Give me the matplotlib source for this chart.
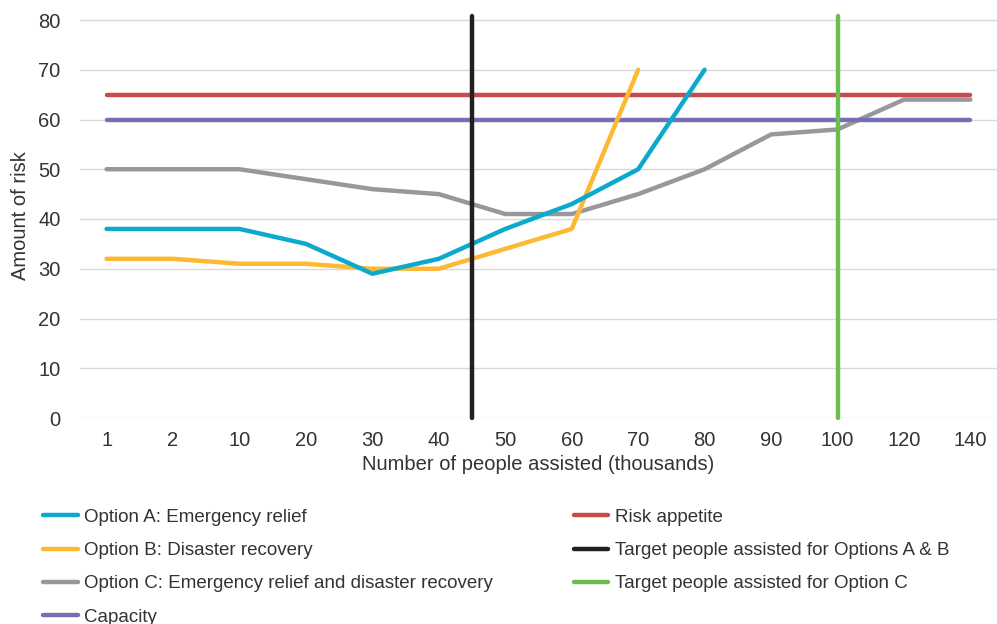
import numpy as np
import matplotlib
matplotlib.use("Agg")
import matplotlib.pyplot as plt

plt.rcParams['font.family'] = ['Liberation Sans', 'DejaVu Sans']

# People assisted (thousands) - categorical axis
people = [1, 2, 10, 20, 30, 40, 50, 60, 70, 80, 90, 100, 120, 140]

option_a = [38, 38, 38, 35, 29, 32, 38, 43, 50, 70]
option_b = [32, 32, 31, 31, 30, 30, 34, 38, 70]
option_c = [50, 50, 50, 48, 46, 45, 41, 41, 45, 50, 57, 58, 64, 64]
risk_appetite = [65] * len(people)
capacity = [60] * len(people)

target_ab = 45
target_c = 100
target_top = 80.8

c_a = '#0BA9CC'
c_b = '#FDB933'
c_c = '#97989B'
c_risk = '#C84A4B'
c_cap = '#7570B3'
c_ab = '#231F20'
c_tc = '#6CBD4F'
txt = '#333333'

ytop = 81.5
fig = plt.figure(figsize=(9.97, 6.24), dpi=100)
ax = fig.add_axes([80 / 997, 206 / 624, 917 / 997, ytop * 4.975 / 624])

idx = np.arange(len(people))
lw = 3.2

ax.plot(idx[:len(option_a)], option_a, color=c_a, lw=lw, solid_capstyle='round',
        label='Option A: Emergency relief', zorder=4)
ax.plot(idx[:len(option_b)], option_b, color=c_b, lw=lw, solid_capstyle='round',
        label='Option B: Disaster recovery', zorder=3)
ax.plot(idx, option_c, color=c_c, lw=lw, solid_capstyle='round',
        label='Option C: Emergency relief and disaster recovery', zorder=2)
ax.plot(idx, capacity, color=c_cap, lw=lw, solid_capstyle='round', label='Capacity', zorder=2)
ax.plot(idx, risk_appetite, color=c_risk, lw=lw, solid_capstyle='round', label='Risk appetite', zorder=2)

# vertical target markers, placed between categories on the same scale
x_ab = np.interp(target_ab, people, idx)
x_c = np.interp(target_c, people, idx)
ax.plot([x_ab, x_ab], [0, target_top], color=c_ab, lw=lw, solid_capstyle='round',
        label='Target people assisted for Options A & B', zorder=5, clip_on=False)
ax.plot([x_c, x_c], [0, target_top], color=c_tc, lw=lw, solid_capstyle='round',
        label='Target people assisted for Option C', zorder=5, clip_on=False)

ax.set_xlim(-0.4, 13.4)
ax.set_ylim(0, ytop)
ax.set_yticks(range(0, 81, 10))
ax.set_xticks(idx)
ax.set_xticklabels([str(p) for p in people])
ax.grid(axis='y', color='#D9D9D9', lw=1)
ax.set_axisbelow(True)
for s in ax.spines.values():
    s.set_visible(False)
ax.tick_params(length=0, labelsize=14.5, colors=txt, pad=9)
ax.tick_params(axis='y', pad=14)

ax.set_xlabel('Number of people assisted (thousands)', fontsize=14.5, color=txt, labelpad=4)
ax.set_ylabel('Amount of risk', fontsize=14.5, color=txt, labelpad=6)

leg = fig.legend(loc='upper left', bbox_to_anchor=(26 / 997, 1 - 492 / 624), ncol=2,
                 frameon=False, fontsize=13.5, handlelength=1.85, handletextpad=0.35,
                 columnspacing=4.3, labelspacing=0.86, labelcolor=txt)

fig.savefig('out.png', dpi=100)
